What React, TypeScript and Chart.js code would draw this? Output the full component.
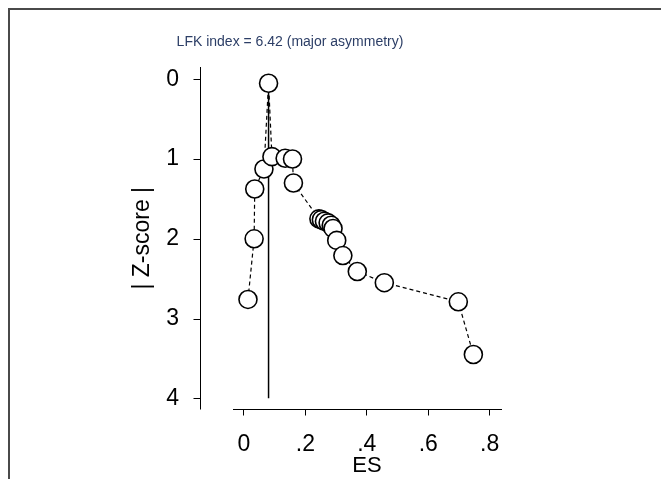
import React, { useEffect, useRef } from "react";
import { Chart, registerables } from "chart.js";

Chart.register(...registerables);

// Study effect sizes (ES) and |Z-score| values, ordered by ES
const ES = [0.013, 0.033, 0.035, 0.065, 0.08, 0.091, 0.134, 0.158, 0.161, 0.244, 0.252, 0.262, 0.274, 0.284, 0.29, 0.302, 0.322, 0.369, 0.457, 0.698, 0.747];
const ZSCORE = [2.76, 2.0, 1.375, 1.125, 0.05, 0.97, 0.99, 1.0, 1.3, 1.75, 1.76, 1.78, 1.8, 1.83, 1.87, 2.02, 2.21, 2.41, 2.55, 2.79, 3.45];

// Vertical reference line (ES of the study with the smallest |Z|)
const REF_ES = 0.08;
const REF_Z = [0, 4];

const X_TICKS = [0, 0.2, 0.4, 0.6, 0.8];
const X_TICK_LABELS = ["0", ".2", ".4", ".6", ".8"];
const Y_TICKS = [0, 1, 2, 3, 4];
const Y_TICK_LABELS = ["0", "1", "2", "3", "4"];

const TITLE = "LFK index = 6.42 (major asymmetry)";
const X_TITLE = "ES";
const Y_TITLE = "| Z-score |";

const FONT = "'Liberation Sans', Arial, Helvetica, sans-serif";

const offsetYAxis = {
  id: "offsetYAxis",
  afterDraw(chart: any) {
    const { ctx, chartArea, scales } = chart;
    const y = scales.y;
    const x0 = Math.round(chartArea.left - 33) + 0.5;
    ctx.save();
    ctx.strokeStyle = "#000";
    ctx.lineWidth = 1;
    ctx.beginPath();
    ctx.moveTo(x0, chartArea.top);
    ctx.lineTo(x0, chartArea.bottom);
    for (const t of y.ticks) {
      const py = Math.round(y.getPixelForValue(t.value)) + 0.5;
      ctx.moveTo(x0 - 7, py);
      ctx.lineTo(x0, py);
    }
    ctx.stroke();
    ctx.restore();
  },
};

export default function App() {
  const ref = useRef<HTMLCanvasElement | null>(null);

  useEffect(() => {
    if (!ref.current) return;
    const chart = new Chart(ref.current, {
      type: "scatter",
      data: {
        datasets: [
          {
            label: "studies",
            data: ES.map((x, i) => ({ x, y: ZSCORE[i] })),
            showLine: true,
            borderColor: "#000",
            borderWidth: 1.2,
            borderDash: [4, 3],
            pointRadius: 9,
            pointHoverRadius: 9,
            pointBackgroundColor: "#fff",
            pointBorderColor: "#000",
            pointBorderWidth: 1.6,
            tension: 0,
            order: 0,
            clip: false,
          } as any,
          {
            label: "ref",
            data: REF_Z.map((z) => ({ x: REF_ES, y: z })),
            showLine: true,
            borderColor: "#000",
            borderWidth: 1.5,
            pointRadius: 0,
            order: 1,
          } as any,
        ],
      },
      options: {
        animation: false,
        responsive: false,
        maintainAspectRatio: false,
        events: [],
        layout: { padding: { left: 69, right: 69, top: 0, bottom: 0 } },
        plugins: {
          legend: { display: false },
          tooltip: { enabled: false },
          title: {
            display: true,
            text: TITLE,
            color: "#2c3e66",
            font: { family: FONT, size: 14, weight: "normal" },
            padding: { top: 24, bottom: 16.2 },
          },
        },
        scales: {
          x: {
            type: "linear",
            min: -0.0358,
            max: 0.837,
            afterBuildTicks: (s: any) => {
              s.ticks = X_TICKS.map((v) => ({ value: v }));
            },
            afterFit: (s: any) => {
              s.height = 69.5;
              s.paddingLeft = 0;
              s.paddingRight = 0;
              s.paddingTop = 0;
              s.paddingBottom = 0;
            },
            border: { display: true, color: "#000", width: 1 },
            grid: { drawOnChartArea: false, drawTicks: true, tickLength: 6, color: "#000", lineWidth: 1 },
            ticks: {
              autoSkip: false,
              maxRotation: 0,
              color: "#000",
              padding: 15,
              font: { family: FONT, size: 23 },
              callback: (v: any) => {
                const i = X_TICKS.findIndex((t) => Math.abs(t - v) < 1e-9);
                return i >= 0 ? X_TICK_LABELS[i] : "";
              },
            },
            title: {
              display: true,
              text: X_TITLE,
              color: "#000",
              font: { family: FONT, size: 22, lineHeight: 1.15 },
              padding: { top: 0, bottom: 0 },
            },
          },
          y: {
            type: "linear",
            reverse: true,
            min: -0.154,
            max: 4.14,
            afterBuildTicks: (s: any) => {
              s.ticks = Y_TICKS.map((v) => ({ value: v }));
            },
            afterFit: (s: any) => {
              s.width = 154;
              s.paddingLeft = 0;
              s.paddingRight = 0;
              s.paddingTop = 0;
              s.paddingBottom = 0;
            },
            border: { display: false },
            grid: { display: false, drawTicks: false, tickLength: 0 },
            ticks: {
              autoSkip: false,
              color: "#000",
              padding: 54,
              font: { family: FONT, size: 23 },
              callback: (v: any) => {
                const i = Y_TICKS.findIndex((t) => Math.abs(t - v) < 1e-9);
                return i >= 0 ? Y_TICK_LABELS[i] : "";
              },
            },
            title: {
              display: true,
              text: Y_TITLE,
              color: "#000",
              font: { family: FONT, size: 23 },
              padding: { top: 50, bottom: 0 },
            },
          },
        },
      },
      plugins: [offsetYAxis],
    });
    return () => chart.destroy();
  }, []);

  return (
    <div
      style={{
        position: "fixed",
        left: 8,
        top: 8,
        width: 720,
        height: 520,
        borderTop: "2px solid #4a4a4a",
        borderLeft: "2px solid #4a4a4a",
        background: "#fff",
      }}
    >
      <canvas ref={ref} width={560} height={469} style={{ display: "block", width: 560, height: 469 }} />
    </div>
  );
}
